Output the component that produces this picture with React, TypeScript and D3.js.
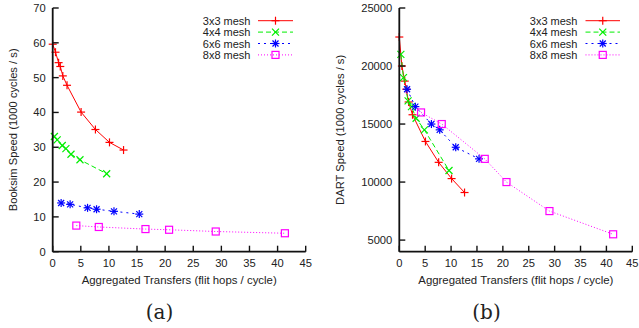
import React, { useEffect, useRef } from "react";
import * as d3 from "d3";

const meshes = ["3x3 mesh", "4x4 mesh", "6x6 mesh", "8x8 mesh"];

// aggregated transfers (flit hops / cycle)
const xfer3 = [0, 0.5, 1.05, 1.35, 1.8, 2.55, 5.05, 7.6, 10.1, 12.6];
const xfer4 = [0.3, 0.8, 1.7, 2.35, 3.25, 4.85, 9.6];
const xfer6 = [1.5, 3.1, 6.2, 7.8, 10.9, 15.4];
const xfer8 = [4.2, 8.2, 16.5, 20.7, 29.0, 41.3];

// booksim speed (1000 cycles / s)
const booksim3 = [59.6, 57.3, 54.3, 53.2, 50.5, 47.8, 40.1, 35.1, 31.4, 29.2];
const booksim4 = [33.1, 32.1, 30.5, 29.6, 28.0, 26.4, 22.4];
const booksim6 = [14.0, 13.6, 12.6, 12.2, 11.6, 10.8];
const booksim8 = [7.5, 7.1, 6.5, 6.3, 5.8, 5.3];

// DART speed (1000 cycles / s)
const dart3 = [22500, 20000, 18700, 18000, 16900, 15800, 13500, 11700, 10300, 9100];
const dart4 = [21000, 19000, 17000, 16500, 15500, 14500, 11000];
const dart6 = [18000, 16500, 15000, 14500, 13000, 12000];
const dart8 = [16000, 15000, 12000, 10000, 7500, 5500];

const xTicks = [0, 5, 10, 15, 20, 25, 30, 35, 40, 45];
const booksimTicks = [0, 10, 20, 30, 40, 50, 60, 70];
const dartTicks = [5000, 10000, 15000, 20000, 25000];

const colors = ["#ff0000", "#00ee00", "#0000ff", "#ff00ff"];
const dashes = ["none", "5,3", "2,4", "1,2"];
const markers = ["plus", "cross", "star", "square"];

const FONT = "'Liberation Sans', Arial, sans-serif";

function drawMarker(g: any, kind: string, x: number, y: number, color: string) {
  const s = 4;
  const m = g.append("g").attr("transform", `translate(${x},${y})`).attr("stroke", color).attr("stroke-width", 1.2).attr("fill", "none");
  if (kind === "plus" || kind === "star") {
    m.append("line").attr("x1", -s).attr("x2", s).attr("y1", 0).attr("y2", 0);
    m.append("line").attr("x1", 0).attr("x2", 0).attr("y1", -s).attr("y2", s);
  }
  if (kind === "cross" || kind === "star") {
    const c = kind === "star" ? 3 : 3.5;
    m.append("line").attr("x1", -c).attr("x2", c).attr("y1", -c).attr("y2", c);
    m.append("line").attr("x1", -c).attr("x2", c).attr("y1", c).attr("y2", -c);
  }
  if (kind === "square") {
    m.append("rect").attr("x", -3.5).attr("y", -3.5).attr("width", 7).attr("height", 7);
  }
}

function App() {
  const ref = useRef<SVGSVGElement>(null);

  useEffect(() => {
    const svg = d3.select(ref.current);
    svg.selectAll("*").remove();

    const panels = [
      {
        left: 52.7, right: 305.7, ylabel: "Booksim Speed (1000 cycles / s)", ylabelX: 13,
        ydom: [0, 70], yticks: booksimTicks, ys: [booksim3, booksim4, booksim6, booksim8],
        legendTextX: 250.5, legendLine: [258, 293], caption: "(a)", capX: 159.5,
      },
      {
        left: 399.3, right: 632.3, ylabel: "DART Speed (1000 cycles / s)", ylabelX: 340,
        ydom: [4000, 25000], yticks: dartTicks, ys: [dart3, dart4, dart6, dart8],
        legendTextX: 577.5, legendLine: [585.5, 620], caption: "(b)", capX: 486.5,
      },
    ];
    const xs = [xfer3, xfer4, xfer6, xfer8];
    const top = 8, bottom = 251.7;

    panels.forEach((p) => {
      const g = svg.append("g");
      const x = d3.scaleLinear().domain([0, 45]).range([p.left, p.right]);
      const y = d3.scaleLinear().domain(p.ydom).range([bottom, top]);

      // series
      p.ys.forEach((vals, i) => {
        const pts = vals.map((v, j) => [x(xs[i][j]), y(v)] as [number, number]);
        g.append("path")
          .attr("d", d3.line()(pts))
          .attr("fill", "none")
          .attr("stroke", colors[i])
          .attr("stroke-width", 1)
          .attr("stroke-dasharray", dashes[i]);
        pts.forEach(([px, py]) => drawMarker(g, markers[i], px, py, colors[i]));
      });

      // axes
      g.append("line").attr("x1", p.left).attr("x2", p.left).attr("y1", top).attr("y2", bottom)
        .attr("stroke", "#111").attr("stroke-width", 1.8);
      g.append("line").attr("x1", p.left).attr("x2", p.right).attr("y1", bottom).attr("y2", bottom)
        .attr("stroke", "#111").attr("stroke-width", 1.8);

      xTicks.forEach((t) => {
        g.append("line").attr("x1", x(t)).attr("x2", x(t)).attr("y1", bottom).attr("y2", bottom - 6)
          .attr("stroke", "#111").attr("stroke-width", 1.4);
        g.append("text").attr("x", x(t)).attr("y", bottom + 15).attr("text-anchor", "middle")
          .attr("font-family", FONT).attr("font-size", 11.2).attr("fill", "#222").text(t);
      });
      p.yticks.forEach((t) => {
        g.append("line").attr("x1", p.left).attr("x2", p.left + 6).attr("y1", y(t)).attr("y2", y(t))
          .attr("stroke", "#111").attr("stroke-width", 1.4);
        g.append("text").attr("x", p.left - 7).attr("y", y(t) + 4).attr("text-anchor", "end")
          .attr("font-family", FONT).attr("font-size", 11.2).attr("fill", "#222").text(t);
      });

      g.append("text").attr("transform", `translate(${p.ylabelX},${(top + bottom) / 2}) rotate(-90)`)
        .attr("text-anchor", "middle").attr("dominant-baseline", "central")
        .attr("font-family", FONT).attr("font-size", 11.2).attr("fill", "#222").text(p.ylabel);
      g.append("text").attr("x", (p.left + p.right) / 2).attr("y", 284).attr("text-anchor", "middle")
        .attr("font-family", FONT).attr("font-size", 11.4).attr("fill", "#222")
        .text("Aggregated Transfers (flit hops / cycle)");
      g.append("text").attr("x", p.capX).attr("y", 319).attr("text-anchor", "middle")
        .attr("font-family", "'DejaVu Serif', 'Liberation Serif', serif").attr("font-size", 20).attr("fill", "#222")
        .text(p.caption);

      // legend
      meshes.forEach((name, i) => {
        const ly = 20.7 + i * 11.4;
        g.append("text").attr("x", p.legendTextX).attr("y", ly + 4).attr("text-anchor", "end")
          .attr("font-family", FONT).attr("font-size", 11).attr("fill", "#222").text(name);
        g.append("line").attr("x1", p.legendLine[0]).attr("x2", p.legendLine[1]).attr("y1", ly).attr("y2", ly)
          .attr("stroke", colors[i]).attr("stroke-width", 1).attr("stroke-dasharray", dashes[i]);
        drawMarker(g, markers[i], (p.legendLine[0] + p.legendLine[1]) / 2, ly, colors[i]);
      });
    });
  }, []);

  return (
    <svg ref={ref} width={639} height={328}
      style={{ position: "absolute", left: 0, top: 0, background: "#fff" }} />
  );
}

export default App;
